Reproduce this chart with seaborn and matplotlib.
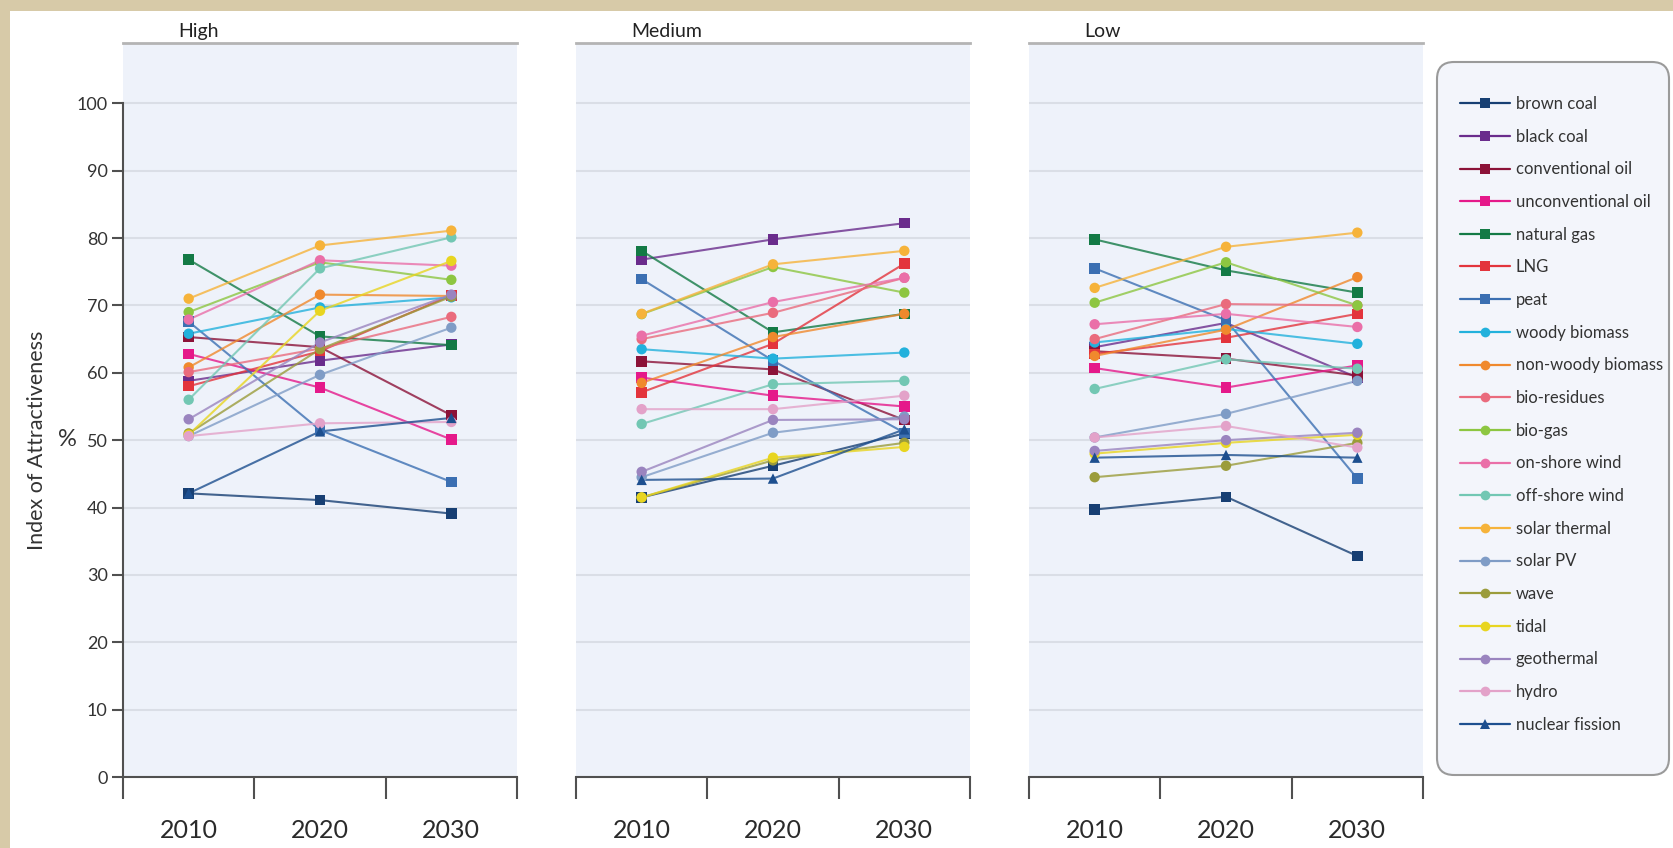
import matplotlib
matplotlib.use("Agg")
import matplotlib.pyplot as plt
from matplotlib.lines import Line2D
from matplotlib.patches import FancyBboxPatch, Rectangle
import pandas as pd
import seaborn as sns

# ---- data -------------------------------------------------------------
sources = ["brown coal", "black coal", "conventional oil", "unconventional oil",
           "natural gas", "LNG", "peat", "woody biomass", "non-woody biomass",
           "bio-residues", "bio-gas", "on-shore wind", "off-shore wind",
           "solar thermal", "solar PV", "wave", "tidal", "geothermal", "hydro",
           "nuclear fission"]
years = ["2010", "2020", "2030"]
scenarios = ["High", "Medium", "Low"]

high_2010 = [42.1, 58.8, 65.3, 62.8, 76.8, 58.0, 67.6, 65.8, 60.8, 60.1,
             69.0, 67.9, 56.0, 71.0, 50.6, 51.0, 50.8, 53.1, 50.6, 42.1]
high_2020 = [41.1, 61.8, 63.8, 57.8, 65.4, 63.2, 51.5, 69.7, 71.6, 63.6,
             76.4, 76.7, 75.5, 78.9, 59.7, 63.5, 69.2, 64.5, 52.5, 51.3]
high_2030 = [39.1, 64.2, 53.7, 50.1, 64.1, 71.5, 43.8, 71.2, 71.4, 68.3,
             73.8, 75.9, 80.1, 81.1, 66.7, 71.3, 76.6, 71.6, 52.7, 53.3]

medium_2010 = [41.5, 76.8, 61.7, 59.3, 78.1, 57.1, 73.9, 63.5, 58.5, 65.0,
               68.7, 65.5, 52.4, 68.75, 44.5, 41.5, 41.5, 45.3, 54.6, 44.1]
medium_2020 = [46.2, 79.8, 60.5, 56.6, 66.0, 64.3, 61.8, 62.1, 65.3, 68.9,
               75.7, 70.5, 58.3, 76.1, 51.1, 47.0, 47.4, 53.0, 54.6, 44.3]
medium_2030 = [51.0, 82.2, 53.0, 55.0, 68.75, 76.2, 51.1, 63.0, 68.75, 74.1,
               71.9, 74.1, 58.8, 78.1, 53.5, 49.6, 49.0, 53.1, 56.6, 51.6]

low_2010 = [39.7, 63.8, 63.2, 60.7, 79.8, 62.8, 75.5, 64.5, 62.5, 65.0,
            70.4, 67.2, 57.6, 72.6, 50.4, 44.5, 48.0, 48.4, 50.4, 47.4]
low_2020 = [41.6, 67.4, 62.1, 57.8, 75.2, 65.2, 67.8, 66.5, 66.4, 70.2,
            76.4, 68.75, 62.0, 78.7, 53.9, 46.2, 49.6, 50.0, 52.1, 47.8]
low_2030 = [32.8, 59.3, 59.6, 61.1, 71.9, 68.75, 44.3, 64.3, 74.2, 70.0,
            70.0, 66.8, 60.6, 80.8, 58.8, 49.6, 50.8, 51.1, 48.9, 47.4]

series_colors = ["#173f73", "#6a2c8c", "#8c1238", "#e5198a", "#137a45",
                 "#e3343c", "#3b6fb2", "#22b1dc", "#f0892d", "#ea6b7d",
                 "#8dc641", "#ea6fa8", "#72c7b3", "#f6b33a", "#7f9cc6",
                 "#9b9c3b", "#e8d520", "#9a84bf", "#e3a2c9", "#1d4f8f"]
series_markers = ["s"] * 7 + ["o"] * 12 + ["^"]

table = {
    "High": [high_2010, high_2020, high_2030],
    "Medium": [medium_2010, medium_2020, medium_2030],
    "Low": [low_2010, low_2020, low_2030],
}
rows = []
for sc in scenarios:
    for yi, yr in enumerate(years):
        for src, val in zip(sources, table[sc][yi]):
            rows.append({"scenario": sc, "year": yr, "pos": yi,
                         "source": src, "value": val})
df = pd.DataFrame(rows)

palette = dict(zip(sources, series_colors))
marker_map = dict(zip(sources, series_markers))

# ---- figure -----------------------------------------------------------
sns.set_theme(style="white")
plt.rcParams["font.family"] = ["Lato", "DejaVu Sans"]

W, H = 1673, 848
fig = plt.figure(figsize=(W / 100, H / 100), dpi=100, facecolor="#d7caa8")
fig.patches.append(Rectangle((10 / W, 0), 1, 1 - 11 / H, transform=fig.transFigure,
                             facecolor="white", edgecolor="none", zorder=-10))


def fx(px):
    return px / W


def fy(py):
    return 1 - py / H


panel_left = [123, 576, 1029]
panel_w = 394
top_px, zero_px, hundred_px = 43, 777, 103.3
px_per_unit = (zero_px - hundred_px) / 100
y_top = 100 + (hundred_px - top_px) / px_per_unit

dark = "#505050"
for i, sc in enumerate(scenarios):
    ax = fig.add_axes([fx(panel_left[i]), fy(zero_px), panel_w / W,
                       (zero_px - top_px) / H])
    ax.set_facecolor("#eef2fa")
    sub = df[df["scenario"] == sc]
    sns.lineplot(data=sub, x="pos", y="value", hue="source", hue_order=sources,
                 palette=palette, estimator=None, sort=False, lw=1.5, alpha=0.8,
                 legend=False, ax=ax, zorder=2)
    sns.scatterplot(data=sub, x="pos", y="value", hue="source", style="source",
                    hue_order=sources, style_order=sources, markers=marker_map,
                    palette=palette, s=56, linewidth=0, legend=False, ax=ax,
                    zorder=3)
    ax.set_xlim(-0.5, 2.5)
    ax.set_ylim(0, y_top)
    ax.set_yticks(range(0, 101, 10))
    ax.yaxis.grid(True, color="#dadee6", lw=1.5)
    ax.set_axisbelow(True)
    ax.set_xlabel("")
    ax.set_ylabel("")

    ax.set_xticks([0, 1, 2])
    ax.set_xticklabels(years)
    ax.set_xticks([-0.5, 0.5, 1.5, 2.5], minor=True)
    ax.tick_params(axis="x", which="major", length=0, pad=30, labelsize=18,
                   labelcolor="#2a2a2a")
    ax.tick_params(axis="x", which="minor", length=16, width=1.5, color=dark,
                   direction="out", bottom=True)

    ax.spines["right"].set_visible(False)
    ax.spines["top"].set_color("#b4b4b4")
    ax.spines["top"].set_linewidth(2)
    ax.spines["bottom"].set_color(dark)
    ax.spines["bottom"].set_linewidth(1.5)

    if i == 0:
        ax.spines["left"].set_color(dark)
        ax.spines["left"].set_linewidth(1.5)
        ax.spines["left"].set_bounds(0, 100)
        ax.tick_params(axis="y", length=8, width=1.5, color=dark, direction="out",
                       left=True, labelsize=13, labelcolor="#333333", pad=3)
    else:
        ax.spines["left"].set_visible(False)
        ax.tick_params(axis="y", left=False, labelleft=False)

    ax.text(0.14, 1.004, sc, transform=ax.transAxes, ha="left", va="bottom",
            fontsize=14, color="#222222")

fig.text(fx(37), fy(440), "Index of Attractiveness", rotation=90, ha="center",
         va="center", fontsize=15.5, color="#333333")
fig.text(fx(67), fy(439), "%", ha="center", va="center", fontsize=17,
         color="#333333")

# ---- legend -----------------------------------------------------------
box = FancyBboxPatch((1437 / 100, (H - 775) / 100), (1669 - 1437) / 100,
                     (775 - 62) / 100, boxstyle="round,pad=0,rounding_size=0.17",
                     transform=fig.dpi_scale_trans, facecolor="#f3f5fb",
                     edgecolor="#9a9a9a", lw=1.5, zorder=1)
fig.patches.append(box)

handles = [Line2D([0], [0], color=c, lw=1.6, marker=m, markersize=7,
                  markeredgewidth=0)
           for c, m in zip(series_colors, series_markers)]
leg = fig.legend(handles, sources, loc="upper left",
                 bbox_to_anchor=(fx(1460), fy(96)), frameon=False, fontsize=12,
                 handlelength=3.0, handletextpad=0.35, labelspacing=1.0,
                 borderpad=0, borderaxespad=0)
for t in leg.get_texts():
    t.set_color("#333333")

fig.savefig("out.png", dpi=100, facecolor=fig.get_facecolor())
